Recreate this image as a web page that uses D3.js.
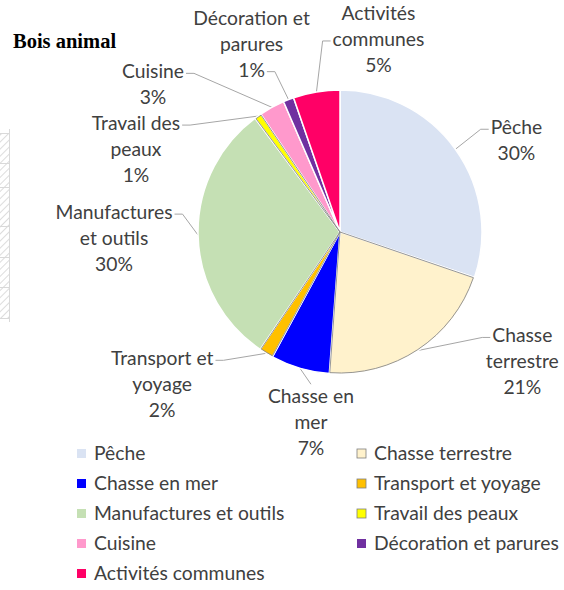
<!DOCTYPE html>
<html>
<head>
<meta charset="utf-8">
<script src="https://cdn.jsdelivr.net/npm/d3@7"></script>
<style>
  body { margin: 0; background: #fff; }
  svg text { font-family: Lato, "Noto Sans", sans-serif; fill: #404040; }
</style>
</head>
<body>
<div id="chart"></div>
<script>
// Bois animal - usage categories (pie)
const categories = ["Pêche", "Chasse terrestre", "Chasse en mer", "Transport et yoyage",
  "Manufactures et outils", "Travail des peaux", "Cuisine", "Décoration et parures", "Activités communes"];
const values = [30.2, 21.0, 6.7, 1.6, 30.3, 0.8, 2.9, 1.2, 5.3];
const labelLines = [["Pêche"], ["Chasse", "terrestre"], ["Chasse en", "mer"], ["Transport et", "yoyage"],
  ["Manufactures", "et outils"], ["Travail des", "peaux"], ["Cuisine"], ["Décoration et", "parures"], ["Activités", "communes"]];
const colors = ["#dae3f3", "#fff2cc", "#0000ff", "#ffc000", "#c5e0b4", "#ffff00", "#ff99cc", "#7030a0", "#ff0066"];
const outlined = ["Chasse terrestre", "Transport et yoyage", "Travail des peaux"];

// label offsets from the slice edge anchor, and where the leader line attaches
const labelOffset = [[61, -21], [104, -14], [11, 29], [-104, 6], [-84, -22], [-122, 8], [-119, -35], [-37, -81], [62, -78]];
const leaderAttach = ["left0", "left0", "top", "right0", "right0", "right0", "right0", "right2", "left1"];

// decorative hatched strip on the left edge (cropped neighbour chart)
const stripRows = [133, 163, 187, 226, 257, 287, 318];

const W = 564, H = 590;
const cx = 340, cy = 232, R = 142;
const lineH = 26;

const svg = d3.select("#chart").append("svg")
  .attr("width", W).attr("height", H);

const defs = svg.append("defs");
const pat = defs.append("pattern")
  .attr("id", "hatch").attr("patternUnits", "userSpaceOnUse")
  .attr("width", 5).attr("height", 5)
  .attr("patternTransform", "rotate(45)");
pat.append("line").attr("x1", 0).attr("y1", 0).attr("x2", 0).attr("y2", 5)
  .attr("stroke", "#d0d0d0").attr("stroke-width", 1.5);

const strip = svg.append("g");
strip.append("rect").attr("x", 0).attr("y", stripRows[0])
  .attr("width", 9).attr("height", stripRows[stripRows.length - 1] - stripRows[0])
  .attr("fill", "url(#hatch)");
strip.selectAll("line.row").data(stripRows).enter().append("line")
  .attr("x1", 0).attr("x2", 10).attr("y1", d => d + 0.5).attr("y2", d => d + 0.5)
  .attr("stroke", "#d9d9d9");
strip.append("line").attr("x1", 9.5).attr("x2", 9.5)
  .attr("y1", stripRows[0] - 4).attr("y2", stripRows[stripRows.length - 1] + 4)
  .attr("stroke", "#d9d9d9");

svg.append("text")
  .attr("x", 13).attr("y", 48)
  .style("font-family", "'Liberation Serif', 'DejaVu Serif', serif")
  .style("font-weight", "bold").style("font-size", "20.5px").style("fill", "#000")
  .text("Bois animal");

const color = d3.scaleOrdinal().domain(categories).range(colors);

const data = categories.map((c, i) => ({ name: c, value: values[i], i: i }));
const pie = d3.pie().value(d => d.value).sort(null);
const arcs = pie(data);
const arc = d3.arc().innerRadius(0).outerRadius(R);
const edge = d3.arc().innerRadius(R).outerRadius(R);

const g = svg.append("g").attr("transform", `translate(${cx},${cy})`);

g.selectAll("path.slice").data(arcs).enter().append("path")
  .attr("class", "slice")
  .attr("d", arc)
  .attr("fill", d => color(d.data.name))
  .attr("stroke", "#fff").attr("stroke-width", 1.5);

// thin grey outlines on the pale / yellow slices
g.selectAll("path.outline").data(arcs.filter(d => outlined.includes(d.data.name))).enter().append("path")
  .attr("class", "outline")
  .attr("d", d3.arc().innerRadius(0).outerRadius(R - 1).padAngle(0.006))
  .attr("fill", "none")
  .attr("stroke", "#8a8a8a").attr("stroke-width", 0.9);

// data labels
const fs = 19.3;
const labels = svg.append("g").style("font-size", fs + "px");

arcs.forEach((d, k) => {
  const [ax, ay] = edge.centroid(d);
  const px = cx + ax, py = cy + ay;
  const lx = px + labelOffset[k][0], ly = py + labelOffset[k][1];
  const pct = Math.round(d.value) + "%";
  const lines = labelLines[k].concat([pct]);

  const lg = labels.append("g");
  const texts = lg.selectAll("text").data(lines).enter().append("text")
    .attr("x", lx).attr("y", (t, j) => ly + j * lineH + 6)
    .attr("text-anchor", "middle")
    .text(t => t);

  // leader line
  const att = leaderAttach[k];
  let ex, ey, elbow;
  if (att === "top") {
    ex = lx; ey = ly - 13;
    elbow = [ex, ey];
  } else {
    const side = att.startsWith("left") ? "left" : "right";
    const j = +att.slice(side.length);
    const bb = texts.nodes()[j].getBBox();
    ey = ly + j * lineH + 1;
    ex = side === "left" ? bb.x - 2 : bb.x + bb.width + 2;
    elbow = [side === "left" ? ex - 8 : ex + 8, ey];
  }
  svg.insert("polyline", "g")
    .attr("points", [[px, py], elbow, [ex, ey]].map(p => p.join(",")).join(" "))
    .attr("fill", "none").attr("stroke", "#a6a6a6").attr("stroke-width", 1);
});

// legend, two columns
const legend = svg.append("g").style("font-size", fs + "px");
const colX = [77, 357], row0 = 454, rowH = 30;
const items = legend.selectAll("g").data(categories).enter().append("g")
  .attr("transform", (c, i) => `translate(${colX[i % 2]},${row0 + Math.floor(i / 2) * rowH})`);
items.append("rect")
  .attr("x", 0).attr("y", -5).attr("width", 9).attr("height", 9)
  .attr("fill", c => color(c))
  .attr("stroke", c => outlined.includes(c) ? "#7f7f7f" : "none")
  .attr("stroke-width", 0.8);
items.append("text")
  .attr("x", 17).attr("y", 6)
  .text(c => c);
</script>
</body>
</html>
